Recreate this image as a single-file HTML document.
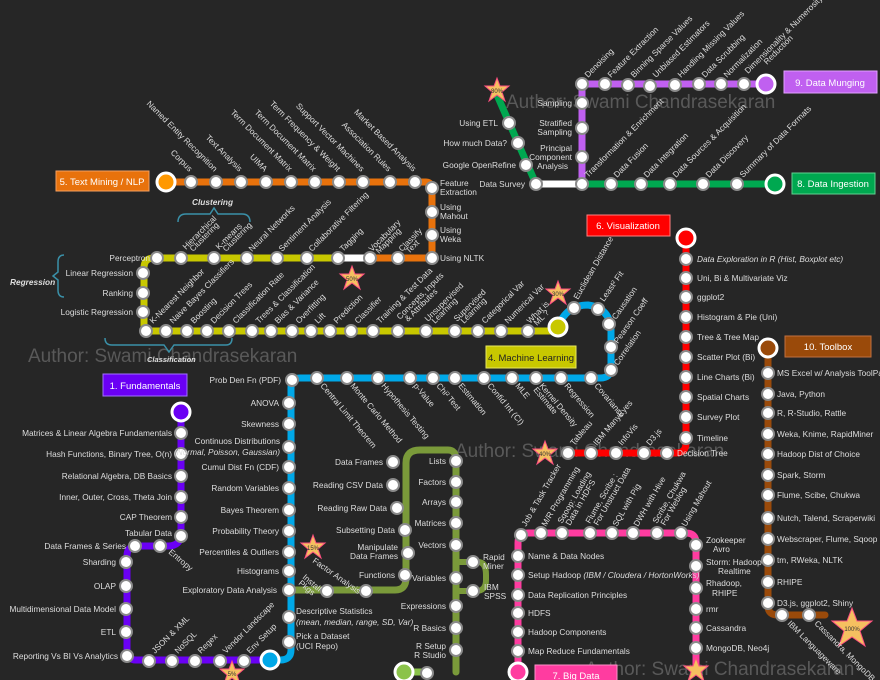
<!DOCTYPE html>
<html><head><meta charset="utf-8"><style>
html,body{margin:0;padding:0;background:#262626;}
svg{display:block;font-family:"Liberation Sans",sans-serif;}
.t{fill:#dedede;font-size:8.3px;}
.e{text-anchor:end}
.s{fill:#fff;stroke:#8a8a8a;stroke-width:2}
.ln{fill:none;stroke-width:7;stroke-linejoin:round;stroke-linecap:round}
.wm{fill:#6a6a6a;font-size:19px;opacity:.75}
.bx{font-size:9.5px;fill:#fff;text-anchor:middle}
</style></head><body>
<svg width="880" height="680" viewBox="0 0 880 680" xmlns="http://www.w3.org/2000/svg">
<rect width="880" height="680" fill="#262626"/>
<text class="wm" x="506" y="108">Author: Swami Chandrasekaran</text>
<text class="wm" x="28" y="362">Author: Swami Chandrasekaran</text>
<text class="wm" x="455" y="457">Author: Swami Chandrasekaran</text>
<text class="wm" x="585" y="675">Author: Swami Chandrasekaran</text>

<path class="ln" stroke="#e8720c" d="M166 182 H426 Q432 182 432 190 V258 H370"/>
<path class="ln" stroke="#fff" d="M338 258 H370"/>
<path class="ln" stroke="#c8c800" d="M338 258 H154 Q144 258 144 268 V331 H558"/>
<path class="ln" stroke="#00a8e8" d="M558 327 Q566 305 588 305 Q610 308 611 330 V368 Q611 378 600 378 H300 Q291 378 291 388 V650 Q291 660 280 660 H270"/>
<path class="ln" stroke="#6a00f4" d="M270 660 H136 Q127 660 127 650 V556 Q127 546 137 546 H168 Q181 546 181 533 V412"/>
<path class="ln" stroke="#7a9a3a" d="M291 590 H395 Q406 590 406 578 V463 Q406 450 420 450 H448 Q456 450 456 460 V672"/>
<path class="ln" stroke="#7a9a3a" d="M456 562 H478 Q486 562 486 575 V580 Q486 591 476 591 H456" style="stroke-width:6"/>
<path class="ln" stroke="#8bc34a" d="M404 672 H430"/>
<path class="ln" stroke="#f00" d="M686 238 V443 Q686 453 676 453 H568"/>
<path class="ln" stroke="#9a4a0a" d="M768 348 V606 Q768 615 778 615 H825"/>
<path class="ln" stroke="#ff3ca0" d="M518 672 V543 Q518 533 528 533 H686 Q696 533 696 543 V672"/>
<path class="ln" stroke="#00a850" d="M497 95 L536 184"/>
<path class="ln" stroke="#fff" d="M536 184 H582"/>
<path class="ln" stroke="#00a850" d="M582 184 H775"/>
<path class="ln" stroke="#c060f0" d="M582 184 V84 H766"/>

<circle cx="166" cy="182" r="9" fill="#ff9800" stroke="#fff" stroke-width="3"/>
<circle cx="558" cy="327" r="9" fill="#c8c800" stroke="#fff" stroke-width="3"/>
<circle cx="181" cy="412" r="9" fill="#6a00f4" stroke="#fff" stroke-width="3"/>
<circle cx="270" cy="660" r="9" fill="#00a8e8" stroke="#fff" stroke-width="3"/>
<circle cx="404" cy="672" r="9" fill="#8bc34a" stroke="#fff" stroke-width="3"/>
<circle cx="686" cy="238" r="9" fill="#f00" stroke="#fff" stroke-width="3"/>
<circle cx="768" cy="348" r="9" fill="#9a4a0a" stroke="#fff" stroke-width="3"/>
<circle cx="518" cy="672" r="9" fill="#ff3ca0" stroke="#fff" stroke-width="3"/>
<circle cx="775" cy="184" r="9" fill="#00a850" stroke="#fff" stroke-width="3"/>
<circle cx="766" cy="84" r="9" fill="#c060f0" stroke="#fff" stroke-width="3"/>

<rect x="56" y="171" width="93" height="20" fill="#e8720c" stroke="#f5a060"/><text class="bx" x="102" y="185">5. Text Mining / NLP</text>
<rect x="486" y="346" width="90" height="22" fill="#c8c800" stroke="#e8e860"/><text class="bx" x="531" y="361" style="fill:#222">4. Machine Learning</text>
<rect x="103" y="374" width="84" height="22" fill="#6a00f4" stroke="#a070ff"/><text class="bx" x="145" y="389">1. Fundamentals</text>
<rect x="587" y="215" width="83" height="21" fill="#f00" stroke="#ff8080"/><text class="bx" x="628" y="229">6. Visualization</text>
<rect x="785" y="336" width="86" height="21" fill="#9a4a0a" stroke="#c07040"/><text class="bx" x="828" y="350">10. Toolbox</text>
<rect x="535" y="665" width="82" height="20" fill="#ff3ca0" stroke="#ff90c8"/><text class="bx" x="576" y="679">7. Big Data</text>
<rect x="792" y="173" width="83" height="21" fill="#00a850" stroke="#60d090"/><text class="bx" x="833" y="187">8. Data Ingestion</text>
<rect x="784" y="71" width="93" height="22" fill="#c060f0" stroke="#e0a0ff"/><text class="bx" x="830" y="86">9. Data Munging</text>

<g fill="#f5c060" stroke="#ff5080" stroke-width="1">
<polygon transform="translate(352,278)" points="0,-12 3,-4 12,-4 5,2 8,11 0,5 -8,11 -5,2 -12,-4 -3,-4"/>
<polygon transform="translate(313,547)" points="0,-12 3,-4 12,-4 5,2 8,11 0,5 -8,11 -5,2 -12,-4 -3,-4"/>
<polygon transform="translate(232,673)" points="0,-12 3,-4 12,-4 5,2 8,11 0,5 -8,11 -5,2 -12,-4 -3,-4"/>
<polygon transform="translate(497,90)" points="0,-12 3,-4 12,-4 5,2 8,11 0,5 -8,11 -5,2 -12,-4 -3,-4"/>
<polygon transform="translate(558,293)" points="0,-12 3,-4 12,-4 5,2 8,11 0,5 -8,11 -5,2 -12,-4 -3,-4"/>
<polygon transform="translate(545,453)" points="0,-12 3,-4 12,-4 5,2 8,11 0,5 -8,11 -5,2 -12,-4 -3,-4"/>
<polygon transform="translate(696,670)" points="0,-12 3,-4 12,-4 5,2 8,11 0,5 -8,11 -5,2 -12,-4 -3,-4"/>
<polygon transform="translate(852,628)" points="0,-20 5,-7 20,-7 8,3 13,18 0,9 -13,18 -8,3 -20,-7 -5,-7"/>
</g>
<g font-size="6" fill="#333" text-anchor="middle">
<text x="352" y="281">50%</text><text x="313" y="550">15%</text><text x="232" y="676">5%</text><text x="497" y="93">80%</text><text x="558" y="296">30%</text><text x="545" y="456">40%</text><text x="852" y="631">100%</text>
</g>

<g fill="none" stroke="#3a90a8" stroke-width="1.5">
<path d="M178 222 Q178 214 186 214 H210 L214 208 L218 214 H242 Q250 214 250 222"/>
<path d="M64 255 Q58 255 58 262 V272 L53 276 L58 280 V290 Q58 297 64 297"/>
<path d="M105 338 Q105 345 112 345 H164 L169 352 L174 345 H226 Q232 345 232 338"/>
</g>
<g class="t" font-style="italic" font-weight="bold" fill="#ccc">
<text x="192" y="205">Clustering</text>
<text x="10" y="285">Regression</text>
<text x="147" y="362" style="font-size:7.5px">Classification</text>
</g>

<g class="s">
<circle cx="191" cy="182" r="6"/><circle cx="216" cy="182" r="6"/><circle cx="241" cy="182" r="6"/><circle cx="266" cy="182" r="6"/><circle cx="291" cy="182" r="6"/><circle cx="315" cy="182" r="6"/><circle cx="339" cy="182" r="6"/><circle cx="363" cy="182" r="6"/><circle cx="390" cy="182" r="6"/><circle cx="415" cy="182" r="6"/>
<circle cx="432" cy="188" r="6"/><circle cx="432" cy="212" r="6"/><circle cx="432" cy="235" r="6"/><circle cx="432" cy="258" r="6"/><circle cx="398" cy="258" r="6"/><circle cx="370" cy="258" r="6"/><circle cx="338" cy="258" r="6"/>
<circle cx="157" cy="258" r="6"/><circle cx="181" cy="258" r="6"/><circle cx="214" cy="258" r="6"/><circle cx="247" cy="258" r="6"/><circle cx="277" cy="258" r="6"/><circle cx="307" cy="258" r="6"/>
<circle cx="143" cy="273" r="6"/><circle cx="143" cy="293" r="6"/><circle cx="143" cy="312" r="6"/>
<circle cx="146" cy="331" r="6"/><circle cx="166" cy="331" r="6"/><circle cx="187" cy="331" r="6"/><circle cx="207" cy="331" r="6"/><circle cx="229" cy="331" r="6"/><circle cx="252" cy="331" r="6"/><circle cx="271" cy="331" r="6"/><circle cx="292" cy="331" r="6"/><circle cx="311" cy="331" r="6"/><circle cx="330" cy="331" r="6"/><circle cx="351" cy="331" r="6"/><circle cx="373" cy="331" r="6"/><circle cx="398" cy="331" r="6"/><circle cx="426" cy="331" r="6"/><circle cx="455" cy="331" r="6"/><circle cx="478" cy="331" r="6"/><circle cx="501" cy="331" r="6"/><circle cx="528" cy="331" r="6"/>
<circle cx="574" cy="308" r="6"/><circle cx="598" cy="309" r="6"/><circle cx="609" cy="324" r="6"/><circle cx="611" cy="347" r="6"/><circle cx="611" cy="370" r="6"/>
<circle cx="292" cy="380" r="6"/><circle cx="317" cy="378" r="6"/><circle cx="347" cy="378" r="6"/><circle cx="378" cy="378" r="6"/><circle cx="410" cy="378" r="6"/><circle cx="433" cy="378" r="6"/><circle cx="455" cy="378" r="6"/><circle cx="484" cy="378" r="6"/><circle cx="512" cy="378" r="6"/><circle cx="536" cy="378" r="6"/><circle cx="561" cy="378" r="6"/><circle cx="591" cy="378" r="6"/>
<circle cx="289" cy="403" r="6"/><circle cx="289" cy="424" r="6"/><circle cx="289" cy="447" r="6"/><circle cx="289" cy="467" r="6"/><circle cx="289" cy="488" r="6"/><circle cx="289" cy="510" r="6"/><circle cx="289" cy="531" r="6"/><circle cx="289" cy="552" r="6"/><circle cx="289" cy="571" r="6"/><circle cx="289" cy="590" r="6"/><circle cx="289" cy="617" r="6"/><circle cx="289" cy="642" r="6"/>
<circle cx="181" cy="433" r="6"/><circle cx="181" cy="454" r="6"/><circle cx="181" cy="476" r="6"/><circle cx="181" cy="497" r="6"/><circle cx="181" cy="517" r="6"/><circle cx="181" cy="536" r="6"/><circle cx="160" cy="546" r="6"/><circle cx="135" cy="546" r="6"/>
<circle cx="126" cy="562" r="6"/><circle cx="126" cy="586" r="6"/><circle cx="126" cy="609" r="6"/><circle cx="126" cy="632" r="6"/><circle cx="127" cy="656" r="6"/>
<circle cx="149" cy="661" r="6"/><circle cx="172" cy="661" r="6"/><circle cx="195" cy="661" r="6"/><circle cx="220" cy="661" r="6"/><circle cx="244" cy="661" r="6"/>
<circle cx="327" cy="591" r="6"/><circle cx="366" cy="591" r="6"/>
<circle cx="393" cy="462" r="6"/><circle cx="393" cy="485" r="6"/><circle cx="397" cy="508" r="6"/><circle cx="405" cy="530" r="6"/><circle cx="408" cy="553" r="6"/><circle cx="405" cy="575" r="6"/>
<circle cx="456" cy="461" r="6"/><circle cx="456" cy="482" r="6"/><circle cx="456" cy="502" r="6"/><circle cx="456" cy="523" r="6"/><circle cx="456" cy="545" r="6"/><circle cx="456" cy="578" r="6"/><circle cx="456" cy="606" r="6"/><circle cx="456" cy="628" r="6"/><circle cx="456" cy="650" r="6"/><circle cx="427" cy="673" r="6"/>
<circle cx="473" cy="562" r="6"/><circle cx="473" cy="591" r="6"/>
<circle cx="686" cy="259" r="6"/><circle cx="686" cy="278" r="6"/><circle cx="686" cy="297" r="6"/><circle cx="686" cy="317" r="6"/><circle cx="686" cy="337" r="6"/><circle cx="686" cy="357" r="6"/><circle cx="686" cy="377" r="6"/><circle cx="686" cy="397" r="6"/><circle cx="686" cy="417" r="6"/><circle cx="686" cy="438" r="6"/>
<circle cx="667" cy="453" r="6"/><circle cx="644" cy="453" r="6"/><circle cx="616" cy="453" r="6"/><circle cx="591" cy="453" r="6"/><circle cx="568" cy="453" r="6"/>
<circle cx="768" cy="373" r="6"/><circle cx="768" cy="394" r="6"/><circle cx="768" cy="413" r="6"/><circle cx="768" cy="434" r="6"/><circle cx="768" cy="454" r="6"/><circle cx="768" cy="475" r="6"/><circle cx="768" cy="495" r="6"/><circle cx="768" cy="518" r="6"/><circle cx="768" cy="539" r="6"/><circle cx="768" cy="560" r="6"/><circle cx="768" cy="582" r="6"/><circle cx="768" cy="603" r="6"/><circle cx="782" cy="615" r="6"/><circle cx="809" cy="615" r="6"/>
<circle cx="521" cy="535" r="6"/><circle cx="541" cy="533" r="6"/><circle cx="562" cy="533" r="6"/><circle cx="590" cy="533" r="6"/><circle cx="612" cy="533" r="6"/><circle cx="633" cy="533" r="6"/><circle cx="657" cy="533" r="6"/><circle cx="681" cy="533" r="6"/>
<circle cx="518" cy="556" r="6"/><circle cx="518" cy="575" r="6"/><circle cx="518" cy="595" r="6"/><circle cx="518" cy="613" r="6"/><circle cx="518" cy="632" r="6"/><circle cx="518" cy="651" r="6"/>
<circle cx="696" cy="545" r="6"/><circle cx="696" cy="566" r="6"/><circle cx="696" cy="588" r="6"/><circle cx="696" cy="609" r="6"/><circle cx="696" cy="628" r="6"/><circle cx="696" cy="648" r="6"/>
<circle cx="509" cy="123" r="6"/><circle cx="518" cy="143" r="6"/><circle cx="526" cy="165" r="6"/><circle cx="536" cy="184" r="6"/><circle cx="582" cy="184" r="6"/><circle cx="611" cy="184" r="6"/><circle cx="641" cy="184" r="6"/><circle cx="670" cy="184" r="6"/><circle cx="703" cy="184" r="6"/><circle cx="737" cy="184" r="6"/>
<circle cx="582" cy="103" r="6"/><circle cx="582" cy="128" r="6"/><circle cx="582" cy="157" r="6"/>
<circle cx="582" cy="84" r="6"/><circle cx="605" cy="84" r="6"/><circle cx="628" cy="85" r="6"/><circle cx="650" cy="86" r="6"/><circle cx="675" cy="85" r="6"/><circle cx="699" cy="84" r="6"/><circle cx="721" cy="84" r="6"/><circle cx="744" cy="84" r="6"/>
</g>

<g class="t">
<text class="e" transform="translate(189,172) rotate(45)">Corpus</text>
<text class="e" transform="translate(214,172) rotate(45)">Named Entity Recognition</text>
<text class="e" transform="translate(239,172) rotate(45)">Text Analysis</text>
<text class="e" transform="translate(264,172) rotate(45)">UIMA</text>
<text class="e" transform="translate(289,172) rotate(45)">Term Document Matrix</text>
<text class="e" transform="translate(313,172) rotate(45)">Term Document Matrix</text>
<text class="e" transform="translate(337,172) rotate(45)">Term Frequency &amp; Weight</text>
<text class="e" transform="translate(361,172) rotate(45)">Support Vector Machines</text>
<text class="e" transform="translate(388,172) rotate(45)">Association Rules</text>
<text class="e" transform="translate(413,172) rotate(45)">Market Based Analysis</text>
<text x="440" y="186">Feature</text><text x="440" y="195">Extraction</text>
<text x="440" y="210">Using</text><text x="440" y="219">Mahout</text>
<text x="440" y="233">Using</text><text x="440" y="242">Weka</text>
<text x="440" y="261">Using NLTK</text>
<text class="e" x="150" y="261">Perceptron</text>
<text transform="translate(186,250) rotate(-45)">Hierarchical</text><text transform="translate(193,252) rotate(-45)">Clustering</text>
<text transform="translate(219,250) rotate(-45)">K-means</text><text transform="translate(226,252) rotate(-45)">Clustering</text>
<text transform="translate(252,252) rotate(-45)">Neural Networks</text>
<text transform="translate(282,252) rotate(-45)">Sentiment Analysis</text>
<text transform="translate(312,252) rotate(-45)">Collaborative Filtering</text>
<text transform="translate(343,252) rotate(-45)">Tagging</text>
<text transform="translate(372,252) rotate(-45)">Vocabulary</text><text transform="translate(379,254) rotate(-45)">Mapping</text>
<text transform="translate(402,252) rotate(-45)">Classify</text><text transform="translate(409,254) rotate(-45)">Text</text>
<text class="e" x="133" y="276">Linear Regression</text>
<text class="e" x="133" y="296">Ranking</text>
<text class="e" x="133" y="315">Logistic Regression</text>
<text transform="translate(153,324) rotate(-45)">K-Nearest Neighbor</text>
<text transform="translate(173,324) rotate(-45)">Naive Bayes Classifiers</text>
<text transform="translate(194,324) rotate(-45)">Boosting</text>
<text transform="translate(214,324) rotate(-45)">Decision Trees</text>
<text transform="translate(236,324) rotate(-45)">Classification Rate</text>
<text transform="translate(259,324) rotate(-45)">Trees &amp; Classification</text>
<text transform="translate(278,324) rotate(-45)">Bias &amp; Variance</text>
<text transform="translate(299,324) rotate(-45)">Overfitting</text>
<text transform="translate(318,324) rotate(-45)">Lift</text>
<text transform="translate(337,324) rotate(-45)">Prediction</text>
<text transform="translate(358,324) rotate(-45)">Classifier</text>
<text transform="translate(380,324) rotate(-45)">Training &amp; Test Data</text>
<text transform="translate(400,320) rotate(-45)">Concepts, Inputs</text><text transform="translate(408,322) rotate(-45)">&amp; Attributes</text>
<text transform="translate(428,322) rotate(-45)">Unsupervised</text><text transform="translate(435,324) rotate(-45)">Learning</text>
<text transform="translate(457,322) rotate(-45)">Supervised</text><text transform="translate(464,324) rotate(-45)">Learning</text>
<text transform="translate(485,324) rotate(-45)">Categorical Var</text>
<text transform="translate(508,324) rotate(-45)">Numerical Var</text>
<text transform="translate(530,324) rotate(-45)">What is</text><text transform="translate(537,326) rotate(-45)">ML ?</text>
<text transform="translate(578,300) rotate(-60)">Euclidean Distance</text>
<text transform="translate(604,302) rotate(-55)">Least² Fit</text>
<text transform="translate(616,320) rotate(-55)">Causation</text>
<text transform="translate(618,344) rotate(-55)">Pearson Coeff</text>
<text transform="translate(618,366) rotate(-55)">Correlation</text>
<text transform="translate(320,386) rotate(50)">Central Limit Theorem</text>
<text transform="translate(350,386) rotate(50)">Monte Carlo Method</text>
<text transform="translate(381,386) rotate(50)">Hypothesis Testing</text>
<text transform="translate(413,386) rotate(50)">p-Value</text>
<text transform="translate(436,386) rotate(50)">Chi² Test</text>
<text transform="translate(458,386) rotate(50)">Estimation</text>
<text transform="translate(487,386) rotate(50)">Confid Int (CI)</text>
<text transform="translate(515,386) rotate(50)">MLE</text>
<text transform="translate(539,386) rotate(50)">Kernel Density</text><text transform="translate(533,390) rotate(50)">Estimate</text>
<text transform="translate(564,386) rotate(50)">Regression</text>
<text transform="translate(594,386) rotate(50)">Covariance</text>
<text class="e" x="281" y="383">Prob Den Fn (PDF)</text>
<text class="e" x="279" y="406">ANOVA</text>
<text class="e" x="279" y="427">Skewness</text>
<text class="e" x="280" y="444">Continuos Distributions</text>
<text class="e" x="280" y="455" font-style="italic">(Normal, Poisson, Gaussian)</text>
<text class="e" x="279" y="470">Cumul Dist Fn (CDF)</text>
<text class="e" x="279" y="491">Random Variables</text>
<text class="e" x="279" y="513">Bayes Theorem</text>
<text class="e" x="279" y="534">Probability Theory</text>
<text class="e" x="279" y="555">Percentiles &amp; Outliers</text>
<text class="e" x="279" y="574">Histograms</text>
<text class="e" x="277" y="593">Exploratory Data Analysis</text>
<text x="296" y="614">Descriptive Statistics</text>
<text x="296" y="625" font-style="italic">(mean, median, range, SD, Var)</text>
<text x="296" y="639">Pick a Dataset</text><text x="296" y="649">(UCI Repo)</text>
<text class="e" x="172" y="436">Matrices &amp; Linear Algebra Fundamentals</text>
<text class="e" x="172" y="457">Hash Functions, Binary Tree, O(n)</text>
<text class="e" x="172" y="479">Relational Algebra, DB Basics</text>
<text class="e" x="172" y="500">Inner, Outer, Cross, Theta Join</text>
<text class="e" x="172" y="520">CAP Theorem</text>
<text class="e" x="172" y="536">Tabular Data</text>
<text class="e" x="126" y="549">Data Frames &amp; Series</text>
<text transform="translate(168,553) rotate(40)">Entropy</text>
<text class="e" x="116" y="565">Sharding</text>
<text class="e" x="116" y="589">OLAP</text>
<text class="e" x="116" y="612">Multidimensional Data Model</text>
<text class="e" x="116" y="635">ETL</text>
<text class="e" x="118" y="659">Reporting Vs BI Vs Analytics</text>
<text transform="translate(155,654) rotate(-45)">JSON &amp; XML</text>
<text transform="translate(178,654) rotate(-45)">NoSQL</text>
<text transform="translate(201,654) rotate(-45)">Regex</text>
<text transform="translate(226,654) rotate(-45)">Vendor Landscape</text>
<text transform="translate(250,654) rotate(-45)">Env Setup</text>
<text transform="translate(302,578) rotate(40)">Install</text><text transform="translate(298,584) rotate(40)">Pkgs</text>
<text transform="translate(312,562) rotate(35)">Factor Analysis</text>
<text class="e" x="383" y="465">Data Frames</text>
<text class="e" x="383" y="488">Reading CSV Data</text>
<text class="e" x="387" y="511">Reading Raw Data</text>
<text class="e" x="395" y="533">Subsetting Data</text>
<text class="e" x="398" y="550">Manipulate</text><text class="e" x="398" y="559">Data Frames</text>
<text class="e" x="395" y="578">Functions</text>
<text class="e" x="446" y="464">Lists</text>
<text class="e" x="446" y="485">Factors</text>
<text class="e" x="446" y="505">Arrays</text>
<text class="e" x="446" y="526">Matrices</text>
<text class="e" x="446" y="548">Vectors</text>
<text class="e" x="446" y="581">Variables</text>
<text class="e" x="446" y="609">Expressions</text>
<text class="e" x="446" y="631">R Basics</text>
<text class="e" x="446" y="649">R Setup</text><text class="e" x="446" y="658">R Studio</text>
<text x="483" y="560">Rapid</text><text x="483" y="569">Miner</text>
<text x="484" y="590">IBM</text><text x="484" y="599">SPSS</text>
<text x="697" y="262" font-style="italic">Data Exploration in R (Hist, Boxplot etc)</text>
<text x="697" y="281">Uni, Bi &amp; Multivariate Viz</text>
<text x="697" y="300">ggplot2</text>
<text x="697" y="320">Histogram &amp; Pie (Uni)</text>
<text x="697" y="340">Tree &amp; Tree Map</text>
<text x="697" y="360">Scatter Plot (Bi)</text>
<text x="697" y="380">Line Charts (Bi)</text>
<text x="697" y="400">Spatial Charts</text>
<text x="697" y="420">Survey Plot</text>
<text x="697" y="441">Timeline</text>
<text x="677" y="456">Decision Tree</text>
<text transform="translate(574,446) rotate(-50)">Tableau</text>
<text transform="translate(597,446) rotate(-50)">IBM ManyEyes</text>
<text transform="translate(622,446) rotate(-50)">InfoVis</text>
<text transform="translate(650,446) rotate(-50)">D3.js</text>
<text x="777" y="376">MS Excel w/ Analysis ToolPak</text>
<text x="777" y="397">Java, Python</text>
<text x="777" y="416">R, R-Studio, Rattle</text>
<text x="777" y="437">Weka, Knime, RapidMiner</text>
<text x="777" y="457">Hadoop Dist of Choice</text>
<text x="777" y="478">Spark, Storm</text>
<text x="777" y="498">Flume, Scibe, Chukwa</text>
<text x="777" y="521">Nutch, Talend, Scraperwiki</text>
<text x="777" y="542">Webscraper, Flume, Sqoop</text>
<text x="777" y="563">tm, RWeka, NLTK</text>
<text x="777" y="585">RHIPE</text>
<text x="777" y="606">D3.js, ggplot2,  Shiny</text>
<text transform="translate(787,624) rotate(45)">IBM Languageware</text>
<text transform="translate(814,624) rotate(45)">Cassandra, MongoDB</text>
<text transform="translate(526,527) rotate(-60)">Job &amp; Task Tracker</text>
<text transform="translate(546,527) rotate(-60)">M/R Programming</text>
<text transform="translate(562,524) rotate(-60)">Sqoop: Loading</text><text transform="translate(570,526) rotate(-60)">Data in HDFS</text>
<text transform="translate(590,524) rotate(-60)">Flume, Scribe :</text><text transform="translate(598,526) rotate(-60)">For Unstruct Data</text>
<text transform="translate(617,527) rotate(-60)">SQL with Pig</text>
<text transform="translate(638,527) rotate(-60)">DWH with Hive</text>
<text transform="translate(657,524) rotate(-60)">Scribe, Chukwa</text><text transform="translate(665,526) rotate(-60)">For Weblog</text>
<text transform="translate(686,527) rotate(-60)">Using Mahout</text>
<text x="528" y="559">Name &amp; Data Nodes</text>
<text x="528" y="578">Setup Hadoop <tspan font-style="italic">(IBM / Cloudera / HortonWorks)</tspan></text>
<text x="528" y="598">Data Replication Principles</text>
<text x="528" y="616">HDFS</text>
<text x="528" y="635">Hadoop Components</text>
<text x="528" y="654">Map Reduce Fundamentals</text>
<text x="706" y="543">Zookeeper</text><text x="713" y="552">Avro</text>
<text x="706" y="565">Storm: Hadoop</text><text x="718" y="574">Realtime</text>
<text x="706" y="586">Rhadoop,</text><text x="712" y="596">RHIPE</text>
<text x="706" y="612">rmr</text>
<text x="706" y="631">Cassandra</text>
<text x="706" y="651">MongoDB, Neo4j</text>
<text class="e" x="498" y="126">Using ETL</text>
<text class="e" x="507" y="146">How much Data?</text>
<text class="e" x="516" y="168">Google OpenRefine</text>
<text class="e" x="525" y="187">Data Survey</text>
<text transform="translate(588,178) rotate(-45)">Transformation &amp; Enrichment</text>
<text transform="translate(617,178) rotate(-45)">Data Fusion</text>
<text transform="translate(647,178) rotate(-45)">Data Integration</text>
<text transform="translate(676,178) rotate(-45)">Data Sources &amp; Acquisition</text>
<text transform="translate(709,178) rotate(-45)">Data Discovery</text>
<text transform="translate(743,178) rotate(-45)">Summary of Data Formats</text>
<text class="e" x="572" y="106">Sampling</text>
<text class="e" x="572" y="126">Stratified</text><text class="e" x="572" y="135">Sampling</text>
<text class="e" x="572" y="151">Principal</text><text class="e" x="572" y="160">Component</text><text class="e" x="568" y="169">Analysis</text>
<text transform="translate(588,78) rotate(-45)">Denoising</text>
<text transform="translate(611,78) rotate(-45)">Feature Extraction</text>
<text transform="translate(634,78) rotate(-45)">Binning Sparse Values</text>
<text transform="translate(656,78) rotate(-45)">Unbiased Estimators</text>
<text transform="translate(681,78) rotate(-45)">Handling Missing Values</text>
<text transform="translate(705,78) rotate(-45)">Data Scrubbing</text>
<text transform="translate(727,78) rotate(-45)">Normalization</text>
<text transform="translate(748,74) rotate(-45)">Dimensionality &amp; Numerosity</text>
<text transform="translate(767,65) rotate(-45)">Reduction</text>
</g>
</svg>
</body></html>
